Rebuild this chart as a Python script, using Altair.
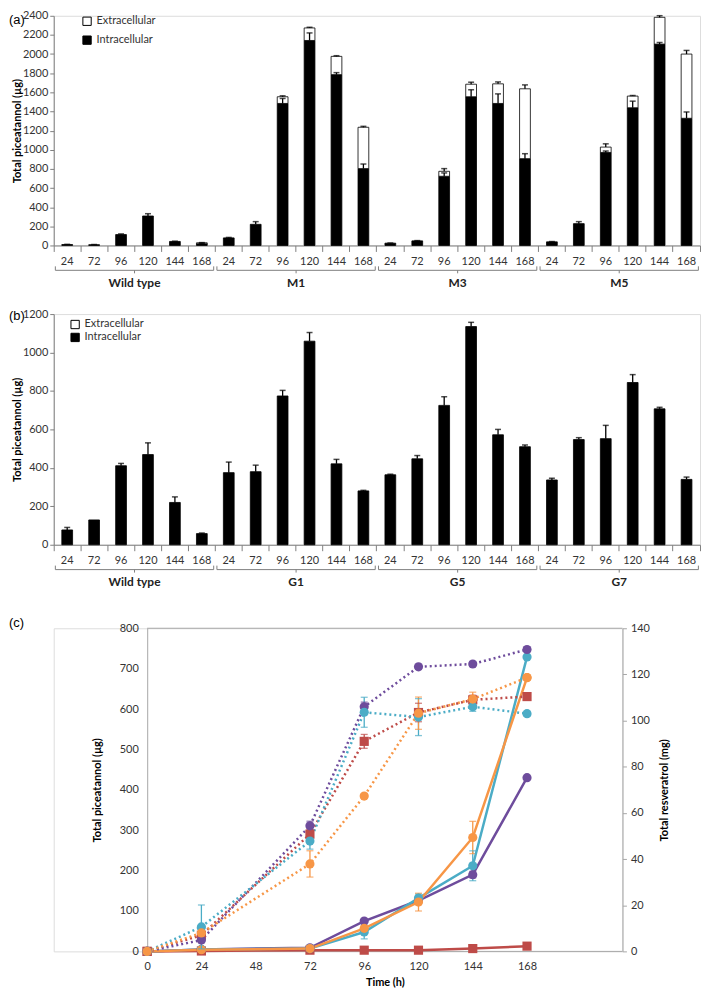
import altair as alt
import pandas as pd

FONT = "Lato"
TAG_FONT = "Liberation Sans"
AXIS_GRAY = "#7f7f7f"
LABEL_COLOR = "#333333"

hours = ["24", "72", "96", "120", "144", "168"]

# ---------------- Panel (a) ----------------
groups_a = ["Wild type", "M1", "M3", "M5"]
intra_a = [10, 8, 114, 308, 42, 18,
           79, 221, 1484, 2142, 1785, 803,
           24, 48, 723, 1554, 1484, 907,
           38, 228, 972, 1439, 2104, 1329]
intra_err_a = [2, 2, 7, 24, 3, 2,
               5, 28, 52, 79, 21, 48,
               2, 3, 35, 73, 100, 52,
               3, 21, 15, 69, 17, 66]
extra_a = [0, 0, 0, 0, 0, 10,
           0, 0, 70, 131, 191, 432,
           0, 0, 52, 131, 205, 730,
           0, 0, 56, 122, 280, 671]
extra_err_a = [0, 0, 0, 0, 0, 2,
               0, 0, 10, 7, 7, 10,
               0, 0, 28, 21, 20, 41,
               0, 0, 34, 6, 17, 38]

# ---------------- Panel (b) ----------------
groups_b = ["Wild type", "G1", "G5", "G7"]
intra_b = [77, 129, 411, 469, 220, 58,
           375, 380, 774, 1059, 421, 280,
           364, 447, 725, 1135, 572, 510,
           337, 547, 552, 844, 707, 340]
intra_err_b = [13, 0, 12, 61, 29, 3,
               55, 34, 29, 45, 23, 3,
               3, 17, 45, 22, 28, 9,
               9, 10, 69, 41, 8, 12]
extra_b = [0, 0, 0, 0, 0, 0,
           0, 0, 0, 0, 0, 0,
           0, 0, 0, 0, 0, 0,
           0, 0, 0, 0, 0, 0]
extra_err_b = [0, 0, 0, 0, 0, 0,
               0, 0, 0, 0, 0, 0,
               0, 0, 0, 0, 0, 0,
               0, 0, 0, 0, 0, 0]

# ---------------- Panel (c) ----------------
times = [0, 24, 72, 96, 120, 144, 168]
time_ticks = [0, 24, 48, 72, 96, 120, 144, 168]
strains = ["Wild type", "Strain purple", "Strain cyan", "Strain orange"]
strain_colors = ["#BE4B48", "#6E4C9C", "#4BACC6", "#F79646"]
strain_shapes = ["square", "circle", "circle", "circle"]
# piceatannol (µg), solid lines, left axis
pic_wt = [0, 1, 3, 3, 3, 7, 13]
pic_purple = [0, 5, 9, 75, 126, 190, 430]
pic_cyan = [0, 5, 7, 48, 132, 212, 729]
pic_orange = [0, 4, 7, 57, 122, 282, 678]
pic_err_wt = [0, 0, 0, 0, 0, 2, 2]
pic_err_purple = [0, 0, 0, 3, 5, 8, 0]
pic_err_cyan = [0, 0, 0, 17, 10, 37, 0]
pic_err_orange = [0, 0, 0, 5, 22, 40, 0]
# resveratrol (mg), dotted lines, right axis
res_wt = [0, 7, 50.8, 91, 103.5, 109, 110.4]
res_purple = [0, 4.9, 54.4, 106, 123.3, 124.5, 130.8]
res_cyan = [0, 10.6, 47.8, 103.6, 101.5, 106, 103]
res_orange = [0, 8, 37.9, 67.3, 103.2, 109.3, 118.6]
res_err_wt = [0, 1, 2, 3, 4, 2, 1]
res_err_purple = [0, 1, 2, 2, 1, 1, 1]
res_err_cyan = [0, 9.5, 3.5, 6.5, 8, 2, 1]
res_err_orange = [0, 2, 5.7, 1, 7, 3, 1]


def bar_panel(tag, groups, intra, intra_err, extra, extra_err, ymax, W, H,
              legend_x, legend_y, legend_row_pad, tag_y):
    keys = [f"{g}|{h}" for g in groups for h in hours]
    bars, errs = [], []
    for i, k in enumerate(keys):
        bars.append({"key": k, "part": "Intracellular", "value": intra[i], "ord": 0})
        if extra[i] > 0:
            bars.append({"key": k, "part": "Extracellular", "value": extra[i], "ord": 1})
        if intra_err[i] > 0:
            errs.append({"key": k, "lo": intra[i], "hi": intra[i] + intra_err[i]})
        if extra[i] > 0 and extra_err[i] > 0:
            tot = intra[i] + extra[i]
            errs.append({"key": k, "lo": tot, "hi": tot + extra_err[i]})
    bars_df = pd.DataFrame(bars)
    errs_df = pd.DataFrame(errs)
    grp_df = pd.DataFrame({
        "label": groups,
        "first": [f"{g}|{hours[0]}" for g in groups],
        "mid": [f"{g}|{hours[2]}" for g in groups],
        "last": [f"{g}|{hours[-1]}" for g in groups],
    })
    xscale = alt.Scale(domain=keys, paddingInner=0, paddingOuter=0)
    xaxis = alt.Axis(title=None, labelExpr="split(datum.value, '|')[1]",
                     bandPosition=1, tickExtra=True, labelOverlap=False,
                     labelAngle=0, labelFont=FONT, labelFontSize=11,
                     labelColor=LABEL_COLOR, labelPadding=4, tickSize=6,
                     tickColor=AXIS_GRAY, domainColor=AXIS_GRAY)
    yscale = alt.Scale(domain=[0, ymax], nice=False)
    yaxis = alt.Axis(values=list(range(0, ymax + 1, 200)), format="d",
                     labelOverlap=False,
                     title="Total piceatannol (µg)", titleFont=FONT,
                     titleFontWeight="bold", titleFontSize=11, titleColor="black",
                     titlePadding=0, labelFont=FONT, labelFontSize=11,
                     labelColor=LABEL_COLOR, tickSize=4, tickColor=AXIS_GRAY,
                     domainColor=AXIS_GRAY, grid=False)
    field = "part_" + tag.strip("()")
    bars_df = bars_df.rename(columns={"part": field})
    barsc = alt.Chart(bars_df).mark_bar(
        width=alt.RelativeBandSize(0.4), stroke="black", strokeWidth=0.8
    ).encode(
        x=alt.X("key:N", scale=xscale, axis=xaxis),
        y=alt.Y("value:Q", stack="zero", scale=yscale, axis=yaxis),
        color=alt.Color(f"{field}:N",
                        scale=alt.Scale(domain=["Extracellular", "Intracellular"],
                                        range=["white", "black"]),
                        legend=alt.Legend(title=None, orient="none",
                                          legendX=legend_x, legendY=legend_y,
                                          symbolType="square", symbolSize=70,
                                          symbolStrokeColor="black",
                                          symbolStrokeWidth=1,
                                          labelFont=FONT, labelFontSize=11,
                                          labelColor=LABEL_COLOR,
                                          rowPadding=legend_row_pad)),
        order=alt.Order("ord:Q"),
    )
    rules = alt.Chart(errs_df).mark_rule(color="black", strokeWidth=1.3).encode(
        x=alt.X("key:N", scale=xscale, axis=xaxis),
        y=alt.Y("lo:Q", scale=yscale, axis=yaxis), y2="hi:Q")
    caps = alt.Chart(errs_df).mark_tick(color="black", thickness=1.5, size=6,
                                        orient="horizontal").encode(
        x=alt.X("key:N", scale=xscale, axis=xaxis),
        y=alt.Y("hi:Q", scale=yscale, axis=yaxis))
    brace = alt.Chart(grp_df).mark_rule(color=AXIS_GRAY, strokeWidth=1).encode(
        x=alt.X("first:N", bandPosition=0.06, scale=xscale, axis=xaxis),
        x2=alt.X2("last:N", bandPosition=0.94),
        y=alt.value(H + 25))
    hook_l = alt.Chart(grp_df).mark_rule(color=AXIS_GRAY, strokeWidth=1).encode(
        x=alt.X("first:N", bandPosition=0.06, scale=xscale, axis=xaxis),
        y=alt.value(H + 21), y2=alt.value(H + 25))
    hook_r = alt.Chart(grp_df).mark_rule(color=AXIS_GRAY, strokeWidth=1).encode(
        x=alt.X("last:N", bandPosition=0.94, scale=xscale, axis=xaxis),
        y=alt.value(H + 21), y2=alt.value(H + 25))
    dip = alt.Chart(grp_df).mark_rule(color=AXIS_GRAY, strokeWidth=1).encode(
        x=alt.X("mid:N", bandPosition=1, scale=xscale, axis=xaxis),
        y=alt.value(H + 25), y2=alt.value(H + 28))
    gtext = alt.Chart(grp_df).mark_text(font=FONT, fontWeight="bold", fontSize=12,
                                        color="#222222", baseline="middle").encode(
        x=alt.X("mid:N", bandPosition=1, scale=xscale, axis=xaxis),
        y=alt.value(H + 38), text="label:N")
    tagc = alt.Chart(pd.DataFrame({"t": [tag]})).mark_text(
        font=TAG_FONT, fontSize=13, align="left", baseline="middle", color="black"
    ).encode(x=alt.value(-45), y=alt.value(tag_y), text="t:N")
    return alt.layer(barsc, rules, caps, brace, hook_l, hook_r, dip, gtext, tagc).properties(
        width=W, height=H)


pa = bar_panel("(a)", groups_a, intra_a, intra_err_a, extra_a, extra_err_a,
               2400, 650, 231, 28, 0, 6, 4)
pb = bar_panel("(b)", groups_b, intra_b, intra_err_b, extra_b, extra_err_b,
               1200, 650, 232, 16, 5, 0, 2)

# ---------------- Panel (c) build ----------------
pic_all = [pic_wt, pic_purple, pic_cyan, pic_orange]
pic_err_all = [pic_err_wt, pic_err_purple, pic_err_cyan, pic_err_orange]
res_all = [res_wt, res_purple, res_cyan, res_orange]
res_err_all = [res_err_wt, res_err_purple, res_err_cyan, res_err_orange]
rows = []
for s_i, s in enumerate(strains):
    for t_i, t in enumerate(times):
        rows.append({"strain": s, "ord": s_i, "time": t,
                     "pic": pic_all[s_i][t_i], "pic_err": pic_err_all[s_i][t_i],
                     "pic_lo": pic_all[s_i][t_i] - pic_err_all[s_i][t_i],
                     "pic_hi": pic_all[s_i][t_i] + pic_err_all[s_i][t_i],
                     "res": res_all[s_i][t_i], "res_err": res_err_all[s_i][t_i],
                     "res_lo": res_all[s_i][t_i] - res_err_all[s_i][t_i],
                     "res_hi": res_all[s_i][t_i] + res_err_all[s_i][t_i]})
cdf = pd.DataFrame(rows)

# plot area of (c) starts at the same left edge as (a)/(b); time 0 sits 94 px in
WC, HC = 572, 325
X_LEFT, X_RIGHT = -41.3, 210.2
LEFT_AXIS_SHIFT = -94
xs = alt.Scale(domain=[X_LEFT, X_RIGHT], nice=False, zero=False)
xax = alt.Axis(values=time_ticks, title="Time (h)", titleX=333,
               titleFont=FONT, titleFontWeight="bold", titleFontSize=11,
               titleColor="black", titlePadding=5, labelFont=FONT, labelFontSize=11,
               labelColor=LABEL_COLOR, ticks=False, labelPadding=9,
               domain=False, grid=False, labelOverlap=False)
col = alt.Color("strain:N", scale=alt.Scale(domain=strains, range=strain_colors), legend=None)
shp = alt.Shape("strain:N", scale=alt.Scale(domain=strains, range=strain_shapes), legend=None)

ysl = alt.Scale(domain=[0, 800], nice=False)
yal = alt.Axis(values=list(range(0, 801, 100)), title="Total piceatannol (µg)",
               offset=LEFT_AXIS_SHIFT, labelOverlap=False,
               titleFont=FONT, titleFontWeight="bold", titleFontSize=11,
               titleColor="black", titlePadding=17, labelFont=FONT, labelFontSize=11,
               labelColor=LABEL_COLOR, ticks=False, labelPadding=9,
               domainColor="#a6a6a6", grid=False)
ysr = alt.Scale(domain=[0, 140], nice=False)
yar = alt.Axis(values=list(range(0, 141, 20)), orient="right", labelOverlap=False,
               title="Total  resveratrol (mg)", titleAngle=270,
               titleFont=FONT, titleFontWeight="bold", titleFontSize=11,
               titleColor="black", titlePadding=20, labelFont=FONT, labelFontSize=11,
               labelColor=LABEL_COLOR, tickSize=4, tickColor="#a6a6a6", labelPadding=4,
               domainColor="#a6a6a6", grid=False)

base = alt.Chart(cdf)
pic_err_df = cdf[cdf["pic_err"] > 0]
res_err_df = cdf[cdf["res_err"] > 0]

X = lambda f: alt.X(f, scale=xs, axis=xax)
frame_df = pd.DataFrame({"x0": [0, 0], "x1": [X_RIGHT, X_RIGHT], "yv": [800, 0]})
frame = alt.Chart(frame_df).mark_rule(color="#a6a6a6", strokeWidth=1).encode(
    x=X("x0:Q"), x2="x1:Q", y=alt.Y("yv:Q", scale=ysl, axis=yal))
left_err = alt.Chart(pic_err_df).mark_rule(strokeWidth=1.3).encode(
    x=X("time:Q"), y=alt.Y("pic_lo:Q", scale=ysl, axis=yal), y2="pic_hi:Q", color=col)
left_cap_hi = alt.Chart(pic_err_df).mark_tick(thickness=1.3, size=7, orient="horizontal").encode(
    x=X("time:Q"), y=alt.Y("pic_hi:Q", scale=ysl, axis=yal), color=col)
left_cap_lo = alt.Chart(pic_err_df).mark_tick(thickness=1.3, size=7, orient="horizontal").encode(
    x=X("time:Q"), y=alt.Y("pic_lo:Q", scale=ysl, axis=yal), color=col)
left_line = base.mark_line(strokeWidth=2.5).encode(
    x=X("time:Q"), y=alt.Y("pic:Q", scale=ysl, axis=yal), color=col, order="time:Q")
left_pts = base.mark_point(filled=True, size=85, opacity=1).encode(
    x=X("time:Q"), y=alt.Y("pic:Q", scale=ysl, axis=yal), color=col, shape=shp)
left = alt.layer(frame, left_err, left_cap_hi, left_cap_lo, left_line, left_pts)

right_err = alt.Chart(res_err_df).mark_rule(strokeWidth=1.3).encode(
    x=X("time:Q"), y=alt.Y("res_lo:Q", scale=ysr, axis=yar), y2="res_hi:Q", color=col)
right_cap_hi = alt.Chart(res_err_df).mark_tick(thickness=1.3, size=7, orient="horizontal").encode(
    x=X("time:Q"), y=alt.Y("res_hi:Q", scale=ysr, axis=yar), color=col)
right_cap_lo = alt.Chart(res_err_df).mark_tick(thickness=1.3, size=7, orient="horizontal").encode(
    x=X("time:Q"), y=alt.Y("res_lo:Q", scale=ysr, axis=yar), color=col)
right_line = base.mark_line(strokeWidth=2.5, strokeDash=[2, 3]).encode(
    x=X("time:Q"), y=alt.Y("res:Q", scale=ysr, axis=yar), color=col, order="time:Q")
right_pts = base.mark_point(filled=True, size=85, opacity=1).encode(
    x=X("time:Q"), y=alt.Y("res:Q", scale=ysr, axis=yar), color=col, shape=shp)
right = alt.layer(right_err, right_cap_hi, right_cap_lo, right_line, right_pts)

tag_c = alt.Chart(pd.DataFrame({"t": ["(c)"]})).mark_text(
    font=TAG_FONT, fontSize=13, align="left", baseline="middle", color="black"
).encode(x=alt.value(-45), y=alt.value(-5), text="t:N")

pc = alt.layer(left, right, tag_c).resolve_scale(y="independent").properties(
    width=WC, height=HC)

top = alt.vconcat(pa, pb, spacing=17).resolve_scale(color="independent").resolve_legend(
    color="independent")
chart = alt.vconcat(top, pc, spacing=27).resolve_scale(
    color="independent", shape="independent").resolve_legend(color="independent").properties(
    padding={"left": 0, "top": -2, "right": 0, "bottom": 0}
).configure_view(stroke=None).configure(font=FONT)

chart.save("out.html", embed_options={"renderer": "svg", "actions": False})
